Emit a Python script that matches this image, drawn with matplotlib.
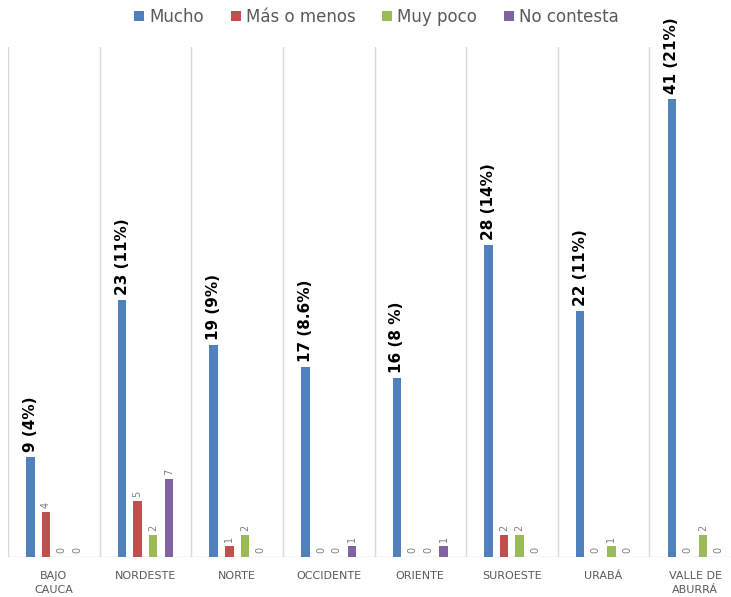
import matplotlib.pyplot as plt
import numpy as np

regions = ["BAJO\nCAUCA", "NORDESTE", "NORTE", "OCCIDENTE", "ORIENTE",
           "SUROESTE", "URABÁ", "VALLE DE\nABURRÁ"]
mucho = [9, 23, 19, 17, 16, 28, 22, 41]
mucho_labels = ["9 (4%)", "23 (11%)", "19 (9%)", "17 (8.6%)", "16 (8 %)",
                "28 (14%)", "22 (11%)", "41 (21%)"]
mas_o_menos = [4, 5, 1, 0, 0, 2, 0, 0]
muy_poco = [0, 2, 2, 0, 0, 2, 1, 2]
no_contesta = [0, 7, 0, 1, 1, 0, 0, 0]

series = [("Mucho", mucho, "#4F81BD"),
          ("Más o menos", mas_o_menos, "#C0504D"),
          ("Muy poco", muy_poco, "#9BBB59"),
          ("No contesta", no_contesta, "#8064A2")]

fig = plt.figure(figsize=(7.31, 5.97), dpi=100)
ax = fig.add_axes([8 / 731, 40 / 597, 733 / 731, 510 / 597])

x = np.arange(len(regions))
width = 0.093
step = 0.17
offsets = (np.arange(4) - 1.5) * step

for k, (name, vals, color) in enumerate(series):
    xs = x + offsets[k]
    ax.bar(xs, vals, width=width, color=color, label=name, zorder=3)
    for xi, v in zip(xs, vals):
        if k == 0:
            continue
        ax.text(xi, v + 0.35, str(v), rotation=90, ha="center", va="bottom",
                fontsize=7, color="#7f7f7f")

for xi, v, lab in zip(x + offsets[0], mucho, mucho_labels):
    ax.text(xi, v + 0.45, lab, rotation=90, ha="center", va="bottom",
            fontsize=11, fontweight="bold", color="black")

# category separators
for b in np.arange(len(regions) + 1) - 0.5:
    ax.axvline(b, color="#d9d9d9", lw=1, zorder=1)
ax.axhline(0, color="#d9d9d9", lw=1, zorder=2)

ax.set_xlim(-0.5, len(regions) - 0.5)
ax.set_ylim(0, 45.7)
ax.set_xticks(x)
ax.set_xticklabels(regions, fontsize=8, color="#595959", linespacing=1.5)
ax.tick_params(axis="x", length=0, pad=10)
ax.set_yticks([])
for s in ax.spines.values():
    s.set_visible(False)

fig.legend(loc="center", bbox_to_anchor=(0.515, 0.972), ncol=4, frameon=False,
           fontsize=12, handlelength=0.6, handleheight=0.6, handletextpad=0.3,
           columnspacing=1.6, labelcolor="#595959")

fig.savefig("out.png", dpi=100)
